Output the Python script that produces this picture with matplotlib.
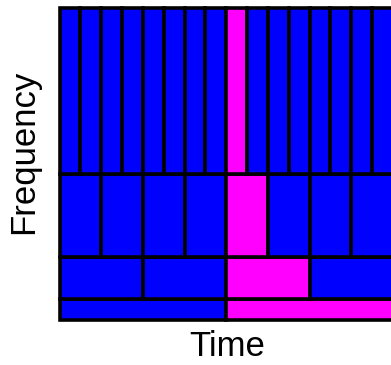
import matplotlib
matplotlib.use('Agg')
import matplotlib.pyplot as plt

# dyadic time-frequency tiling, lowest band first
cells_per_band = [2, 4, 8, 16]
band_heights = [1, 2, 4, 8]
impulse_time = 0.5  # normalised time of the highlighted event

plt.rcParams['font.family'] = ['Liberation Sans', 'DejaVu Sans']

fig = plt.figure(figsize=(3.91, 3.65), dpi=100)
ax = fig.add_axes([59.5 / 391, 45.5 / 365, 333.5 / 391, 312 / 365])

total_w = max(cells_per_band)
bottom = 0
for n, h in zip(cells_per_band, band_heights):
    w = total_w / n
    lefts = [i * w for i in range(n)]
    hit = int(impulse_time * n)
    colors = ['#ff00ff' if i == hit else '#0000ff' for i in range(n)]
    ax.bar(lefts, [h] * n, width=w, bottom=bottom, align='edge',
           color=colors, edgecolor='black', linewidth=2.6, clip_on=False)
    bottom += h

ax.set_xlim(0, total_w)
ax.set_ylim(0, sum(band_heights))
ax.axis('off')

fig.text(24 / 391, 1 - 152 / 365, 'Frequency', rotation=90, fontsize=25,
         ha='center', va='center')
fig.text(227 / 391, 1 - 347 / 365, 'Time', fontsize=25,
         ha='center', va='center')

fig.savefig('out.png', dpi=100)
